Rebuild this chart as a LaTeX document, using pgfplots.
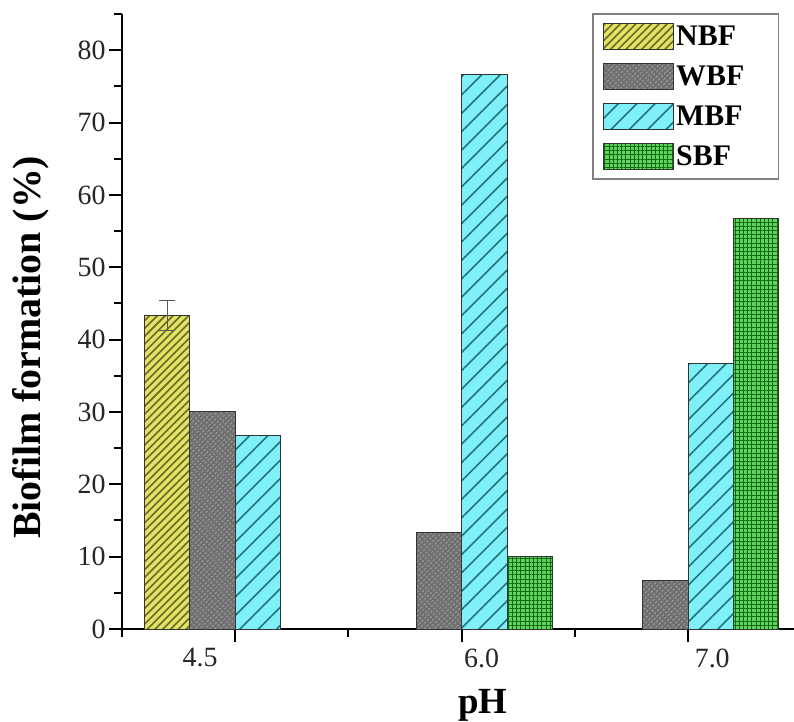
\documentclass[border=0pt]{standalone}
\usepackage{fontspec}
\setmainfont{Liberation Serif}
\usepackage{pgfplots}
\pgfplotsset{compat=1.18}
\usetikzlibrary{patterns.meta}
\definecolor{yfill}{RGB}{226,226,100}
\definecolor{yline}{RGB}{105,105,40}
\definecolor{gfill}{RGB}{110,110,110}
\definecolor{gdot}{RGB}{210,210,210}
\definecolor{cfill}{RGB}{128,240,248}
\definecolor{cline}{RGB}{35,115,125}
\definecolor{sfill}{RGB}{95,210,95}
\definecolor{sline}{RGB}{15,105,15}
\pgfplotsset{
  mylegend/.style={legend image code/.code={\draw[#1,line width=1bp] (0bp,-13bp) rectangle (70bp,13bp);}},
}
\begin{document}
\begin{tikzpicture}
\begin{axis}[
  scale only axis,
  width=679.5bp, height=615bp,
  xmin=0.5, xmax=3.5, ymin=0, ymax=85,
  axis x line=bottom, axis y line=left,
  axis line style={-, line width=2.2bp, black},
  tick align=outside,
  major tick length=13bp, minor tick length=8bp,
  every tick/.style={black, line width=2bp},
  xtick={1,2,3}, xticklabels={},
  minor xtick={0.5,1.5,2.5,3.5},
  extra x ticks={0.845,2.088,3.106},
  extra x tick labels={4.5,6.0,7.0},
  extra x tick style={major tick length=0bp, tick style={draw=none}, xticklabel style={yshift=-16bp}},
  ytick={0,10,...,80},
  minor ytick={5,15,...,85},
  /pgf/number format/assume math mode=true,
  tick label style={font=\fontsize{28}{30}\selectfont, text=black!85},
  xlabel={pH},
  ylabel={Biofilm formation (\%)},
  xlabel style={font=\fontsize{37}{40}\selectfont\bfseries, at={(axis description cs:0.531,-0.138)}, anchor=base},
  ylabel style={font=\fontsize{40}{44}\selectfont\bfseries, at={(axis description cs:-0.134,0.458)}, anchor=center},
  legend style={at={(axis description cs:0.967,1.0016)}, anchor=north east,
    draw=gray, line width=1.5bp, font=\fontsize{30}{32}\selectfont\bfseries,
    row sep=13bp, inner xsep=10bp, inner ysep=9bp,
    nodes={inner xsep=2bp}},
  legend cell align=left,
  bar width=0.2,
]
\addplot[ybar, mylegend, bar shift=-0.3, fill=yfill, draw=black!80, line width=1bp,
  postaction={pattern={Lines[angle=45,distance=5.5bp,line width=1.6bp]}, pattern color=yline}]
  coordinates {(1,43.3)};
\addlegendentry{NBF\hspace*{22bp}}
\addplot[ybar, mylegend, bar shift=-0.1, fill=gfill, draw=black!80, line width=1bp,
  postaction={pattern={Dots[angle=45,distance=3.6bp,radius=0.9bp]}, pattern color=gdot}]
  coordinates {(1,30.0) (2,13.3) (3,6.7)};
\addlegendentry{WBF\hspace*{22bp}}
\addplot[ybar, mylegend, bar shift=0.1, fill=cfill, draw=black!80, line width=1bp,
  postaction={pattern={Lines[angle=45,distance=13bp,line width=1.6bp]}, pattern color=cline}]
  coordinates {(1,26.7) (2,76.6) (3,36.7)};
\addlegendentry{MBF\hspace*{22bp}}
\addplot[ybar, mylegend, bar shift=0.3, fill=sfill, draw=black!80, line width=1bp,
  postaction={pattern={Hatch[angle=0,distance=4.2bp,line width=1bp]}, pattern color=sline}]
  coordinates {(2,10.0) (3,56.7)};
\addlegendentry{SBF\hspace*{22bp}}
\addplot[forget plot, draw=none, mark=none,
  error bars/.cd, y dir=both, y explicit,
  error bar style={gray!70!black, line width=1bp},
  error mark options={rotate=90, mark size=8bp, line width=1bp, gray!70!black}]
  coordinates {(0.7,43.3) +- (0,2.1)};
\end{axis}
\pgfresetboundingbox
\path[use as bounding box] (-122bp,-93bp) rectangle (672bp,629bp);
\end{tikzpicture}
\end{document}
